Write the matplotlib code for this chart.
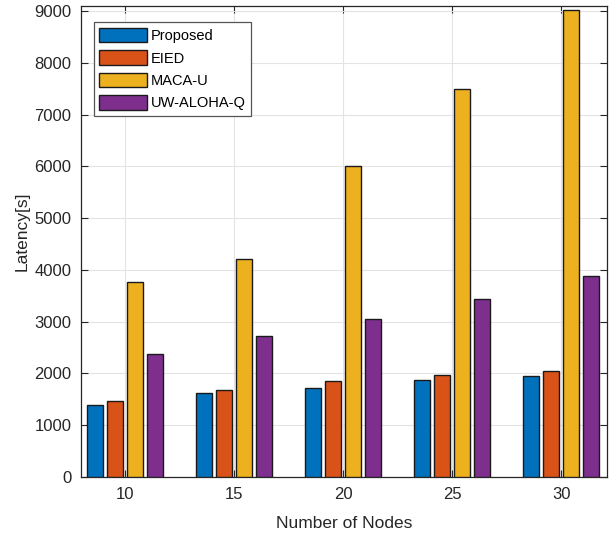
import numpy as np
import matplotlib
matplotlib.use("Agg")
import matplotlib.pyplot as plt
from matplotlib.patches import Rectangle

plt.rcParams['font.family'] = ['Liberation Sans', 'DejaVu Sans']

nodes = [10, 15, 20, 25, 30]
series_names = ["Proposed", "EIED", "MACA-U", "UW-ALOHA-Q"]
proposed = [1385, 1620, 1710, 1870, 1945]
eied = [1465, 1690, 1850, 1975, 2055]
maca_u = [3770, 4220, 6010, 7490, 9020]
uw_aloha_q = [2385, 2725, 3060, 3430, 3885]
colors = ["#0072BD", "#D95319", "#EDB120", "#7E2F8E"]

axis_color = "#262626"

fig = plt.figure(figsize=(6.11, 5.34), dpi=100)
ax = fig.add_axes([0.133, 0.1067, 0.860, 0.8823])

step = 0.917
width = 0.734
x = np.array(nodes, dtype=float)
all_series = [proposed, eied, maca_u, uw_aloha_q]
for i, (vals, name, c) in enumerate(zip(all_series, series_names, colors)):
    ax.bar(x + (i - 1.5) * step, vals, width=width, color=c, edgecolor="#1a1a1a",
           linewidth=1.0, label=name, zorder=3)

ax.set_xlim(7.98, 32.08)
ax.set_ylim(0, 9100)
ax.set_xticks(nodes)
ax.set_yticks(np.arange(0, 9001, 1000))
ax.grid(True, color="#e3e3e3", linewidth=0.8, zorder=0)
ax.set_axisbelow(True)

ax.tick_params(direction="in", length=5, width=0.8, colors=axis_color,
               labelsize=12, top=True, right=True, pad=7)
for s in ax.spines.values():
    s.set_color(axis_color)
    s.set_linewidth(0.9)

ax.set_xlabel("Number of Nodes", fontsize=12.5, color=axis_color, labelpad=10)
ax.set_ylabel("Latency[s]", fontsize=12.5, color=axis_color)
ax.yaxis.set_label_coords(-0.098, 0.522)

handles = [Rectangle((0, 0), 1, 1, facecolor=c, edgecolor="#1a1a1a", linewidth=1.0)
           for c in colors]
leg = ax.legend(handles, series_names, loc="upper left",
                bbox_to_anchor=(0.015, 0.975), fontsize=10.5,
                handlelength=3.3, handleheight=1.15, labelspacing=0.5,
                handletextpad=0.2, borderpad=0.4, borderaxespad=0.3,
                fancybox=False, framealpha=1)
leg.get_frame().set_edgecolor("#555555")
leg.get_frame().set_linewidth(0.9)

fig.savefig("out.png", dpi=100)
